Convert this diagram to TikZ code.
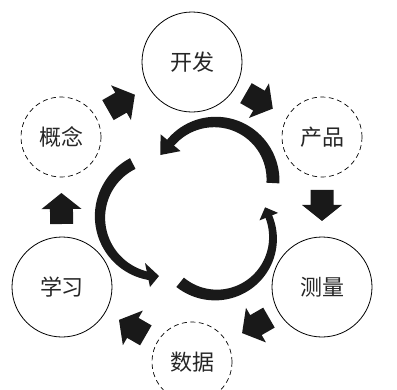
\documentclass[tikz,border=0pt]{standalone}
\usepackage{fontspec}
\newfontfamily\cjk{Noto Sans CJK SC}
\usetikzlibrary{calc}
\tikzset{
  lbl/.style={font=\cjk\fontsize{22}{22}\selectfont, text=black!85},
  solidc/.style={lbl, circle, draw=black, line width=0.8pt, minimum size=100pt, inner sep=0pt},
  dashc/.style={lbl, circle, draw=black, line width=0.7pt, dash pattern=on 5pt off 3.5pt, minimum size=80pt, inner sep=0pt},
  blk/.style={fill=black!90},
}
% block arrow from node #1 to node #2, head base at fraction #3
\newcommand{\blkarrow}[3]{%
  \coordinate (bm) at ($(#1)!#3!(#2)$);
  \coordinate (bp) at ($(bm)!16pt!(#2)$);
  \coordinate (bt) at ($(bm)!15pt!(#1)$);
  \fill[blk] ($(bt)!11.5pt!90:(bp)$) -- ($(bm)!11.5pt!90:(bp)$) -- ($(bm)!20pt!90:(bp)$)
    -- (bp) -- ($(bm)!20pt!-90:(bp)$) -- ($(bm)!11.5pt!-90:(bp)$) -- ($(bt)!11.5pt!-90:(bp)$) -- cycle;
}
% tapered arc: centre (#1,#2), radius #3, angles #4<#5, widths #6 at #4 and #7 at #5
\newcommand{\tarc}[7]{%
  \fill[blk] plot[domain=#4:#5, samples=60, variable=\t]
    ({#1+(#3+((#6)+((#7)-(#6))*(\t-(#4))/((#5)-(#4)))/2)*cos(\t)},
     {#2+(#3+((#6)+((#7)-(#6))*(\t-(#4))/((#5)-(#4)))/2)*sin(\t)})
  -- plot[domain=#4:#5, samples=60, variable=\t]
    ({#1+(#3-((#6)+((#7)-(#6))*((#5)-\t)/((#5)-(#4)))/2)*cos((#4)+(#5)-\t)},
     {#2+(#3-((#6)+((#7)-(#6))*((#5)-\t)/((#5)-(#4)))/2)*sin((#4)+(#5)-\t)})
  -- cycle;
}
\begin{document}
\begin{tikzpicture}[x=1pt, y=-1pt]
  \useasboundingbox (0,0) rectangle (397,389);
  \clip (0,0) rectangle (397,389);
  \node[solidc] (kf) at (192,62) {开发};
  \node[dashc]  (cp) at (322,137) {产品};
  \node[solidc] (cl) at (322,287) {测量};
  \node[dashc]  (sj) at (192,362) {数据};
  \node[solidc] (xx) at (62,287) {学习};
  \node[dashc]  (kn) at (61,137) {概念};

  \blkarrow{kn}{kf}{0.458}
  \blkarrow{kf}{cp}{0.515}
  \blkarrow{cp}{cl}{0.453}
  \blkarrow{cl}{sj}{0.508}
  \blkarrow{sj}{xx}{0.455}
  \blkarrow{xx}{kn}{0.52}

  % central cycle arrows
  \tarc{215}{180}{58}{-143}{3}{9}{13}
  \fill[blk] (160.6,134.3) -- (160.3,155) -- (180.6,151.1) -- cycle;
  \tarc{160}{217}{60}{99}{243}{8}{12}
  \fill[blk] (145,263) -- (159,276) -- (150,287) -- cycle;
  \tarc{216}{238}{57}{-25}{129}{7}{12}
  \fill[blk] (278.1,212.9) -- (265.1,207.3) -- (259.5,220.4) -- cycle;
\end{tikzpicture}
\end{document}
